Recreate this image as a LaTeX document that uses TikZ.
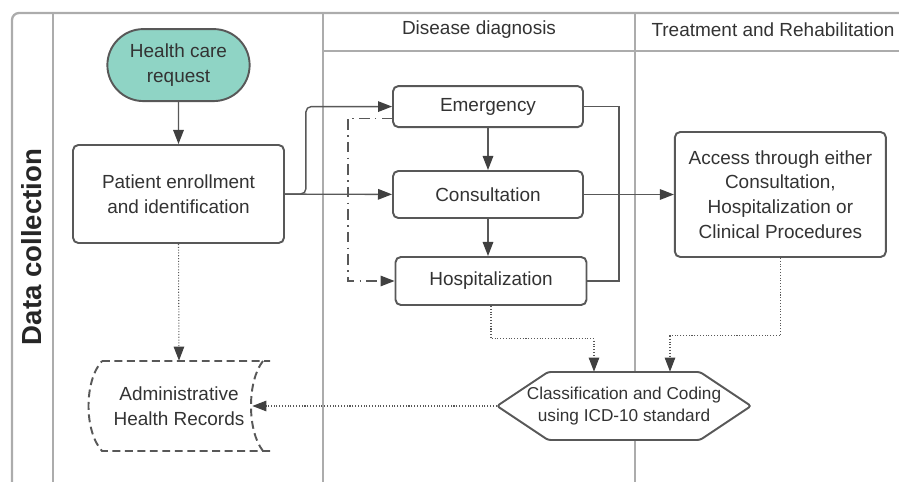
\documentclass[tikz,border=0pt]{standalone}
\usepackage{fontspec}
\setmainfont{Liberation Sans}
\usepackage{tikz}
\usetikzlibrary{shapes.misc, arrows.meta, positioning, calc}
\definecolor{laneline}{RGB}{172,172,172}
\definecolor{boxline}{RGB}{88,88,88}
\definecolor{tipcol}{RGB}{64,64,64}
\definecolor{reqfill}{RGB}{143,212,197}
\tikzset{
  lane/.style={draw=laneline,line width=1.3pt},
  lanetitle/.style={font=\fontsize{10.8}{13}\selectfont,text=black!80},
  procbox/.style={rectangle,rounded corners=3pt,draw=boxline,line width=1.1pt,fill=white,
    align=center,text=black!80,font=\fontsize{10.8}{14}\selectfont},
  startend/.style={rounded rectangle,draw=boxline,line width=1.1pt,fill=reqfill,
    align=center,text=black!80,font=\fontsize{10.8}{14}\selectfont},
  recordtext/.style={align=center,text=black!80,font=\fontsize{10.8}{14}\selectfont},
  recordline/.style={draw=boxline,line width=1.1pt,dash pattern=on 4.5pt off 2.6pt},
  codetext/.style={align=center,inner sep=0pt,text=black!80,font=\fontsize{9.8}{12.5}\selectfont},
  codeline/.style={draw=boxline,line width=1.1pt,fill=white,rounded corners=1.5pt},
  link/.style={draw=boxline,line width=0.8pt},
  arrow/.style={link,-{Triangle[length=8pt,width=6pt,color=tipcol]}},
  dasharrow/.style={arrow,dash pattern=on 6pt off 3pt on 0.8pt off 3pt},
  dotarrow/.style={arrow,line width=0.6pt,densely dotted}
}
\begin{document}
\begin{tikzpicture}[x=0.02cm,y=-0.02cm]
  \useasboundingbox (0,0) rectangle (899,482);
  % swimlanes
  \draw[lane,rounded corners=4pt] (899,13) -- (12,13) -- (12,482);
  \draw[lane] (53,13) -- (53,482);
  \draw[lane] (323,13) -- (323,482);
  \draw[lane] (635,13) -- (635,482);
  \draw[lane] (323,51) -- (899,51);
  \node[lanetitle] (diag) at (479,30) {Disease diagnosis};
  \node[lanetitle] (treat) at (773,30) {Treatment and Rehabilitation};
  \node[rotate=90,font=\fontsize{15.7}{18}\selectfont\bfseries,text=black!85] (coll) at (32,247) {Data collection};

  % nodes
  \node[procbox,minimum width=4.22cm,minimum height=1.96cm] (pat) at (178.5,194) {Patient enrollment\\ and identification};
  \node[startend,minimum width=3.08cm,minimum height=1.44cm,above=0.84cm of pat] (req) {Health care\\ request};
  \node[procbox,minimum width=3.8cm,minimum height=0.94cm] (cons) at (488,194.5) {Consultation};
  \node[procbox,minimum width=3.8cm,minimum height=0.82cm,above=0.84cm of cons] (emer) {Emergency};
  \node[procbox,minimum width=3.82cm,minimum height=0.96cm] (hosp) at (491,281) {Hospitalization};
  \node[procbox,minimum width=4.22cm,minimum height=2.5cm,right=1.8cm of cons] (acc)
    {Access through either\\ Consultation,\\ Hospitalization or\\ Clinical Procedures};

  % classification hexagon
  \coordinate (hexc) at (624,406);
  \draw[codeline] ($(hexc)+(-127,0)$) -- ($(hexc)+(-76,-34)$) -- ($(hexc)+(76,-34)$)
    -- ($(hexc)+(127,0)$) -- ($(hexc)+(76,34)$) -- ($(hexc)+(-76,34)$) -- cycle;
  \node[codetext,minimum width=5.08cm,minimum height=1.36cm] (hex) at (hexc)
    {Classification and Coding\\ using ICD-10 standard};

  % administrative records
  \node[recordtext,minimum width=2.92cm,minimum height=1.8cm] (adm) at (179,406)
    {Administrative\\ Health Records};
  \draw[recordline] (102,361) -- (270,361) (263,361) .. controls (247,381) and (247,431) .. (263,451)
    (270,451) -- (102,451) .. controls (84,431) and (84,381) .. (102,361);

  % connectors
  \draw[arrow] (req) -- (pat);
  \draw[arrow] (pat) -- (cons);
  \draw[arrow,rounded corners=3pt] (pat.east) -- ++(21,0) |- (emer.west);
  \draw[dasharrow] ($(emer.west)!0.55!(emer.south west)$) -- ++(-44,0) |- (hosp.west);
  \draw[arrow] (emer) -- (cons);
  \draw[arrow] (cons.south) -- (cons.south |- hosp.north);
  \draw[link] (emer.east) -- ++(35,0) |- (hosp.east);
  \draw[arrow] (cons) -- (acc);
  \draw[dotarrow] (hosp.south) -- ++(0,33) -| ($(hex.north)+(-30,0)$);
  \draw[dotarrow] (acc.south) -- ++(0,78) -| ($(hex.north)+(46,0)$);
  \draw[dotarrow] (hex.west) -- (adm.east);
  \draw[dotarrow] (pat.south) -- (adm.north);
\end{tikzpicture}
\end{document}
